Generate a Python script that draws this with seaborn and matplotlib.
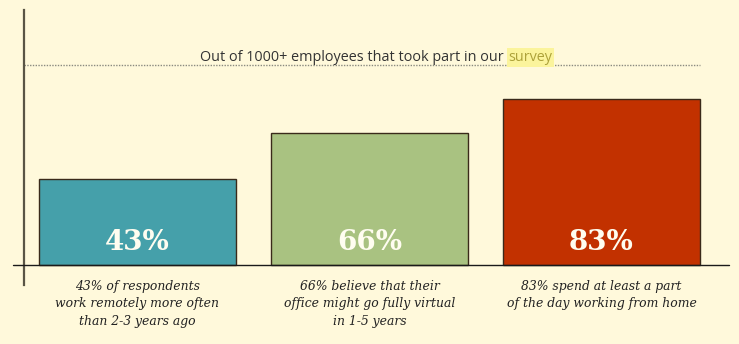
import matplotlib
matplotlib.use("Agg")
import matplotlib.pyplot as plt
import seaborn as sns
import pandas as pd

# Survey results
categories = ["remote_more", "fully_virtual", "work_from_home"]
values = [43, 66, 83]
value_labels = ["43%", "66%", "83%"]
captions = [
    "43% of respondents\nwork remotely more often\nthan 2-3 years ago",
    "66% believe that their\noffice might go fully virtual\nin 1-5 years",
    "83% spend at least a part\nof the day working from home",
]
bar_colors = ["#45A0AA", "#A9C281", "#C23100"]
headline = "Out of 1000+ employees that took part in our"
highlight_word = "survey"
reference_level = 100

BG = "#FFF9DB"

sns.set_theme(style="white")
plt.rcParams["font.family"] = ["DejaVu Sans"]

df = pd.DataFrame({"category": categories, "value": values})

W, H = 739, 344
fig = plt.figure(figsize=(W / 100, H / 100), dpi=100, facecolor=BG)
# axes from x=24..729 px, y=10..285 px
ax = fig.add_axes([24 / W, 1 - 285 / H, (729 - 24) / W, (285 - 10) / H])
ax.set_facecolor(BG)

bar_w = 0.849
sns.barplot(data=df, x="category", y="value", hue="category",
            palette=bar_colors, width=bar_w, legend=False, ax=ax,
            edgecolor="#3a2a1a", linewidth=1.0, saturation=1)

ax.set_xlim(-0.489, 2.5496)
ax.set_ylim(-10, 127.5)

for s in ["top", "right", "bottom"]:
    ax.spines[s].set_visible(False)
ax.spines["left"].set_color("#5a5545")
ax.spines["left"].set_linewidth(1.6)
ax.set_xticks([])
ax.set_yticks([])
ax.set_xlabel("")
ax.set_ylabel("")

# baseline extending slightly left of the vertical axis
ax.axhline(0, xmin=-11 / 705, xmax=1.0, color="#1a1a1a", lw=1.0,
           clip_on=False, zorder=5)

# dotted reference line at 100%
ax.hlines(reference_level, -0.489, 2 + bar_w / 2, colors="#8a8a80",
          linestyles=(0, (1, 1)), lw=1.0, zorder=2)

# headline with highlighted word
x0 = (200 - 137.5) / 232
t1 = ax.text(x0, reference_level + 2.0, headline, ha="left", va="baseline",
             fontsize=10.4, color="#333333", family=["Open Sans", "DejaVu Sans"])
ax.annotate(highlight_word, xy=(1, 0), xycoords=t1, xytext=(3.4, 0),
            textcoords="offset points", ha="left", va="bottom",
            fontsize=10.4, color="#ADA23A", family=["Open Sans", "DejaVu Sans"],
            bbox=dict(boxstyle="square,pad=0.12", fc="#FBF49C", ec="none"))

# value labels inside bars and captions below
for i, (v, lab, cap) in enumerate(zip(values, value_labels, captions)):
    ax.text(i, 11.3, lab, ha="center", va="center", fontsize=20,
            fontweight="bold", color="#FFFDF0", family=["DejaVu Serif"])
    ax.text(i, -7.4, cap, ha="center", va="top", fontsize=8.95,
            style="italic", color="#222222", family=["DejaVu Serif"],
            linespacing=1.45, clip_on=False)

fig.savefig("out.png", dpi=100, facecolor=BG)
